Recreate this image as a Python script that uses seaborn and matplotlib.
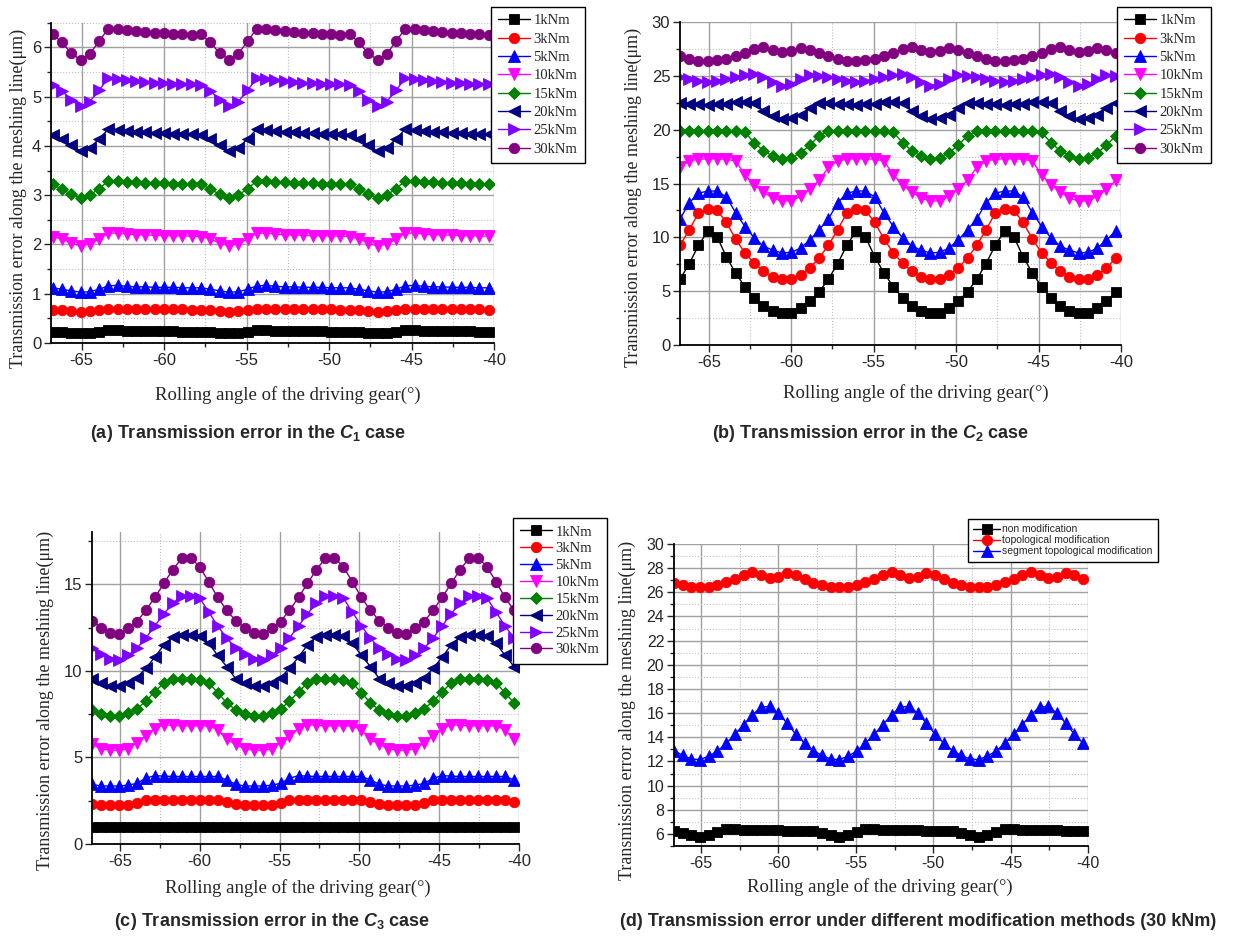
import pandas as pd
import seaborn as sns
import matplotlib.pyplot as plt
from matplotlib.ticker import MultipleLocator

# Rolling angle of the driving gear (deg), same sampling in every panel
angle = [
    -66.75, -66.19, -65.63, -65.06, -64.50, -63.94, -63.38, -62.81,
    -62.25, -61.69, -61.13, -60.56, -60.00, -59.44, -58.88, -58.31,
    -57.75, -57.19, -56.63, -56.06, -55.50, -54.94, -54.38, -53.81,
    -53.25, -52.69, -52.13, -51.56, -51.00, -50.44, -49.88, -49.31,
    -48.75, -48.19, -47.63, -47.06, -46.50, -45.94, -45.38, -44.81,
    -44.25, -43.69, -43.13, -42.56, -42.00, -41.44, -40.88, -40.31,
]

loads = ["1kNm", "3kNm", "5kNm", "10kNm", "15kNm", "20kNm", "25kNm", "30kNm"]
methods = ["non modification", "topological modification", "segment topological modification"]

# (a) C1 case
c1_1 = [0.23, 0.22, 0.21, 0.20, 0.21, 0.23, 0.26, 0.26, 0.25, 0.25, 0.24, 0.24, 0.24, 0.24, 0.23, 0.23,
        0.23, 0.22, 0.21, 0.20, 0.21, 0.23, 0.26, 0.26, 0.25, 0.25, 0.24, 0.24, 0.24, 0.24, 0.23, 0.23,
        0.23, 0.22, 0.21, 0.20, 0.21, 0.23, 0.26, 0.26, 0.25, 0.25, 0.24, 0.24, 0.24, 0.24, 0.23, 0.23]
c1_3 = [0.67, 0.66, 0.64, 0.62, 0.64, 0.67, 0.70, 0.70, 0.70, 0.69, 0.69, 0.69, 0.68, 0.68, 0.68, 0.67,
        0.67, 0.66, 0.64, 0.62, 0.64, 0.67, 0.70, 0.70, 0.70, 0.69, 0.69, 0.69, 0.68, 0.68, 0.68, 0.67,
        0.67, 0.66, 0.64, 0.62, 0.64, 0.67, 0.70, 0.70, 0.70, 0.69, 0.69, 0.69, 0.68, 0.68, 0.68, 0.67]
c1_5 = [1.12, 1.09, 1.06, 1.03, 1.04, 1.09, 1.16, 1.17, 1.15, 1.14, 1.14, 1.13, 1.13, 1.13, 1.12, 1.12,
        1.12, 1.09, 1.06, 1.03, 1.04, 1.09, 1.16, 1.17, 1.15, 1.14, 1.14, 1.13, 1.13, 1.13, 1.12, 1.12,
        1.12, 1.09, 1.06, 1.03, 1.04, 1.09, 1.16, 1.17, 1.15, 1.14, 1.14, 1.13, 1.13, 1.13, 1.12, 1.12]
c1_10 = [2.16, 2.11, 2.03, 1.97, 2.01, 2.11, 2.23, 2.23, 2.21, 2.20, 2.19, 2.19, 2.18, 2.18, 2.17, 2.17,
         2.16, 2.11, 2.03, 1.97, 2.01, 2.11, 2.23, 2.23, 2.21, 2.20, 2.19, 2.19, 2.18, 2.18, 2.17, 2.17,
         2.16, 2.11, 2.03, 1.97, 2.01, 2.11, 2.23, 2.23, 2.21, 2.20, 2.19, 2.19, 2.18, 2.18, 2.17, 2.17]
c1_15 = [3.22, 3.12, 3.02, 2.94, 3.00, 3.13, 3.29, 3.29, 3.27, 3.26, 3.25, 3.24, 3.24, 3.23, 3.23, 3.22,
         3.22, 3.12, 3.02, 2.94, 3.00, 3.13, 3.29, 3.29, 3.27, 3.26, 3.25, 3.24, 3.24, 3.23, 3.23, 3.22,
         3.22, 3.12, 3.02, 2.94, 3.00, 3.13, 3.29, 3.29, 3.27, 3.26, 3.25, 3.24, 3.24, 3.23, 3.23, 3.22]
c1_20 = [4.23, 4.14, 4.01, 3.89, 3.96, 4.14, 4.34, 4.33, 4.31, 4.29, 4.28, 4.27, 4.26, 4.25, 4.25, 4.24,
         4.23, 4.14, 4.01, 3.89, 3.96, 4.14, 4.34, 4.33, 4.31, 4.29, 4.28, 4.27, 4.26, 4.25, 4.25, 4.24,
         4.23, 4.14, 4.01, 3.89, 3.96, 4.14, 4.34, 4.33, 4.31, 4.29, 4.28, 4.27, 4.26, 4.25, 4.25, 4.24]
c1_25 = [5.24, 5.12, 4.93, 4.80, 4.90, 5.13, 5.37, 5.36, 5.34, 5.32, 5.30, 5.28, 5.27, 5.26, 5.26, 5.25,
         5.24, 5.12, 4.93, 4.80, 4.90, 5.13, 5.37, 5.36, 5.34, 5.32, 5.30, 5.28, 5.27, 5.26, 5.26, 5.25,
         5.24, 5.12, 4.93, 4.80, 4.90, 5.13, 5.37, 5.36, 5.34, 5.32, 5.30, 5.28, 5.27, 5.26, 5.26, 5.25]
c1_30 = [6.27, 6.10, 5.88, 5.75, 5.87, 6.12, 6.38, 6.38, 6.35, 6.33, 6.31, 6.30, 6.29, 6.28, 6.27, 6.26,
         6.27, 6.10, 5.88, 5.75, 5.87, 6.12, 6.38, 6.38, 6.35, 6.33, 6.31, 6.30, 6.29, 6.28, 6.27, 6.26,
         6.27, 6.10, 5.88, 5.75, 5.87, 6.12, 6.38, 6.38, 6.35, 6.33, 6.31, 6.30, 6.29, 6.28, 6.27, 6.26]

# (b) C2 case
c2_1 = [6.10, 7.55, 9.25, 10.60, 10.05, 8.20, 6.70, 5.40, 4.40, 3.65, 3.15, 2.95, 3.00, 3.40, 4.05, 4.95,
        6.10, 7.55, 9.25, 10.60, 10.05, 8.20, 6.70, 5.40, 4.40, 3.65, 3.15, 2.95, 3.00, 3.40, 4.05, 4.95,
        6.10, 7.55, 9.25, 10.60, 10.05, 8.20, 6.70, 5.40, 4.40, 3.65, 3.15, 2.95, 3.00, 3.40, 4.05, 4.95]
c2_3 = [9.25, 10.70, 12.25, 12.60, 12.50, 11.40, 9.85, 8.55, 7.60, 6.85, 6.35, 6.10, 6.10, 6.50, 7.15, 8.10,
        9.25, 10.70, 12.25, 12.60, 12.50, 11.40, 9.85, 8.55, 7.60, 6.85, 6.35, 6.10, 6.10, 6.50, 7.15, 8.10,
        9.25, 10.70, 12.25, 12.60, 12.50, 11.40, 9.85, 8.55, 7.60, 6.85, 6.35, 6.10, 6.10, 6.50, 7.15, 8.10]
c2_5 = [11.70, 13.20, 14.10, 14.30, 14.30, 13.75, 12.30, 11.00, 9.95, 9.20, 8.80, 8.55, 8.60, 9.00, 9.75, 10.70,
        11.70, 13.20, 14.10, 14.30, 14.30, 13.75, 12.30, 11.00, 9.95, 9.20, 8.80, 8.55, 8.60, 9.00, 9.75, 10.70,
        11.70, 13.20, 14.10, 14.30, 14.30, 13.75, 12.30, 11.00, 9.95, 9.20, 8.80, 8.55, 8.60, 9.00, 9.75, 10.60]
c2_10 = [16.50, 17.10, 17.25, 17.30, 17.30, 17.25, 17.10, 15.80, 14.90, 14.20, 13.65, 13.35, 13.40, 13.80, 14.45, 15.30,
         16.50, 17.10, 17.25, 17.30, 17.30, 17.25, 17.10, 15.80, 14.90, 14.20, 13.65, 13.35, 13.40, 13.80, 14.45, 15.30,
         16.50, 17.10, 17.25, 17.30, 17.30, 17.25, 17.10, 15.80, 14.90, 14.20, 13.65, 13.35, 13.40, 13.80, 14.45, 15.30]
c2_15 = [19.85, 19.85, 19.85, 19.85, 19.85, 19.85, 19.85, 19.75, 18.80, 18.05, 17.55, 17.30, 17.40, 17.85, 18.55, 19.45,
         19.85, 19.85, 19.85, 19.85, 19.85, 19.85, 19.85, 19.75, 18.80, 18.05, 17.55, 17.30, 17.40, 17.85, 18.55, 19.45,
         19.85, 19.85, 19.85, 19.85, 19.85, 19.85, 19.85, 19.75, 18.80, 18.05, 17.55, 17.30, 17.40, 17.85, 18.55, 19.45]
c2_20 = [22.50, 22.40, 22.35, 22.30, 22.35, 22.40, 22.55, 22.60, 22.50, 21.75, 21.25, 21.00, 21.10, 21.40, 22.00, 22.45,
         22.50, 22.40, 22.35, 22.30, 22.35, 22.40, 22.55, 22.60, 22.50, 21.75, 21.25, 21.00, 21.10, 21.40, 22.00, 22.45,
         22.50, 22.40, 22.35, 22.30, 22.35, 22.40, 22.55, 22.60, 22.50, 21.75, 21.25, 21.00, 21.10, 21.40, 22.00, 22.45]
c2_25 = [24.85, 24.70, 24.55, 24.45, 24.55, 24.70, 24.90, 25.05, 25.20, 24.90, 24.40, 24.10, 24.25, 24.70, 25.10, 24.95,
         24.85, 24.70, 24.55, 24.45, 24.55, 24.70, 24.90, 25.05, 25.20, 24.90, 24.40, 24.10, 24.25, 24.70, 25.10, 24.95,
         24.85, 24.70, 24.55, 24.45, 24.55, 24.70, 24.90, 25.05, 25.20, 24.90, 24.40, 24.10, 24.25, 24.70, 25.10, 24.95]
c2_30 = [26.80, 26.60, 26.40, 26.40, 26.45, 26.60, 26.85, 27.10, 27.45, 27.65, 27.40, 27.20, 27.30, 27.60, 27.40, 27.10,
         26.80, 26.60, 26.40, 26.40, 26.45, 26.60, 26.85, 27.10, 27.45, 27.65, 27.40, 27.20, 27.30, 27.60, 27.40, 27.10,
         26.80, 26.60, 26.40, 26.40, 26.45, 26.60, 26.85, 27.10, 27.45, 27.65, 27.40, 27.20, 27.30, 27.60, 27.40, 27.10]

# (c) C3 case
c3_1 = [1.00, 0.99, 0.99, 0.99, 1.00, 1.01, 1.01, 1.00, 1.00, 1.00, 0.99, 0.99, 0.99, 0.99, 0.99, 1.00,
        1.00, 0.99, 0.99, 0.99, 1.00, 1.01, 1.01, 1.00, 1.00, 1.00, 0.99, 0.99, 0.99, 0.99, 0.99, 1.00,
        1.00, 0.99, 0.99, 0.99, 1.00, 1.01, 1.01, 1.00, 1.00, 1.00, 0.99, 0.99, 0.99, 0.99, 0.99, 1.00]
c3_3 = [2.30, 2.25, 2.25, 2.25, 2.28, 2.38, 2.55, 2.55, 2.55, 2.55, 2.55, 2.55, 2.55, 2.55, 2.53, 2.45,
        2.30, 2.25, 2.25, 2.25, 2.28, 2.38, 2.55, 2.55, 2.55, 2.55, 2.55, 2.55, 2.55, 2.55, 2.53, 2.45,
        2.30, 2.25, 2.25, 2.25, 2.28, 2.38, 2.55, 2.55, 2.55, 2.55, 2.55, 2.55, 2.55, 2.55, 2.53, 2.45]
c3_5 = [3.45, 3.35, 3.35, 3.35, 3.40, 3.50, 3.80, 3.95, 3.92, 3.90, 3.90, 3.90, 3.90, 3.90, 3.90, 3.70,
        3.45, 3.35, 3.35, 3.35, 3.40, 3.50, 3.80, 3.95, 3.92, 3.90, 3.90, 3.90, 3.90, 3.90, 3.90, 3.70,
        3.45, 3.35, 3.35, 3.35, 3.40, 3.50, 3.80, 3.95, 3.92, 3.90, 3.90, 3.90, 3.90, 3.90, 3.90, 3.70]
c3_10 = [5.75, 5.50, 5.42, 5.42, 5.50, 5.85, 6.25, 6.65, 6.90, 6.85, 6.82, 6.82, 6.82, 6.82, 6.60, 6.05,
         5.75, 5.50, 5.42, 5.42, 5.50, 5.85, 6.25, 6.65, 6.90, 6.85, 6.82, 6.82, 6.82, 6.82, 6.60, 6.05,
         5.75, 5.50, 5.42, 5.42, 5.50, 5.85, 6.25, 6.65, 6.90, 6.85, 6.82, 6.82, 6.82, 6.82, 6.60, 6.05]
c3_15 = [7.75, 7.50, 7.40, 7.40, 7.55, 7.80, 8.25, 8.80, 9.30, 9.55, 9.55, 9.55, 9.50, 9.30, 8.75, 8.15,
         7.75, 7.50, 7.40, 7.40, 7.55, 7.80, 8.25, 8.80, 9.30, 9.55, 9.55, 9.55, 9.50, 9.30, 8.75, 8.15,
         7.75, 7.50, 7.40, 7.40, 7.55, 7.80, 8.25, 8.80, 9.30, 9.55, 9.55, 9.55, 9.50, 9.30, 8.75, 8.15]
c3_20 = [9.55, 9.30, 9.15, 9.10, 9.30, 9.60, 10.15, 10.80, 11.50, 11.95, 12.05, 12.05, 12.00, 11.60, 10.90, 10.25,
         9.55, 9.30, 9.15, 9.10, 9.30, 9.60, 10.15, 10.80, 11.50, 11.95, 12.05, 12.05, 12.00, 11.60, 10.90, 10.25,
         9.55, 9.30, 9.15, 9.10, 9.30, 9.60, 10.15, 10.80, 11.50, 11.95, 12.05, 12.05, 12.00, 11.60, 10.90, 10.25]
c3_25 = [11.30, 10.95, 10.70, 10.65, 10.90, 11.30, 11.90, 12.60, 13.30, 13.90, 14.35, 14.35, 14.20, 13.40, 12.60, 11.90,
         11.30, 10.95, 10.70, 10.65, 10.90, 11.30, 11.90, 12.60, 13.30, 13.90, 14.35, 14.35, 14.20, 13.40, 12.60, 11.90,
         11.30, 10.95, 10.70, 10.65, 10.90, 11.30, 11.90, 12.60, 13.30, 13.90, 14.35, 14.35, 14.20, 13.40, 12.60, 11.90]
c3_30 = [12.90, 12.50, 12.20, 12.15, 12.45, 12.85, 13.50, 14.25, 15.05, 15.85, 16.50, 16.55, 16.00, 15.15, 14.25, 13.50,
         12.90, 12.50, 12.20, 12.15, 12.45, 12.85, 13.50, 14.25, 15.05, 15.85, 16.50, 16.55, 16.00, 15.15, 14.25, 13.50,
         12.90, 12.50, 12.20, 12.15, 12.45, 12.85, 13.50, 14.25, 15.05, 15.85, 16.50, 16.55, 16.00, 15.15, 14.25, 13.50]

load_colors = ["#000000", "#ff0000", "#0000ff", "#ff00ff", "#008000", "#000080", "#8000ff", "#800080"]
load_markers = ["s", "o", "^", "v", "D", "<", ">", "o"]
method_colors = ["#000000", "#ff0000", "#0000ff"]
method_markers = ["s", "o", "^"]
marker_size = {"s": 6.5, "o": 7.5, "^": 8, "v": 8, "D": 6.5, "<": 8, ">": 8}

W, H = 1233, 940
sns.set_style("ticks")
plt.rcParams["font.family"] = ["Liberation Sans", "DejaVu Sans"]
plt.rcParams["axes.unicode_minus"] = False
plt.rcParams["mathtext.fontset"] = "custom"
plt.rcParams["mathtext.rm"] = "Liberation Sans:bold"
plt.rcParams["mathtext.it"] = "Liberation Sans:bold:italic"

fig = plt.figure(figsize=(W / 100, H / 100), dpi=100)


def add_axes(left, top, right, bottom):
    return fig.add_axes([left / W, 1 - bottom / H, (right - left) / W, (bottom - top) / H])


def draw_panel(ax, series, names, colors, markers, xlim, ylim, ymajor, yminor, ticksize=12):
    frame = pd.concat(
        [pd.DataFrame({"angle": angle, "te": vals, "case": name}) for name, vals in zip(names, series)],
        ignore_index=True,
    )
    sns.lineplot(
        frame, x="angle", y="te", hue="case", style="case",
        hue_order=names, style_order=names,
        palette=dict(zip(names, colors)), markers=dict(zip(names, markers)),
        dashes=False, estimator=None, sort=False, linewidth=1.0, legend=False, ax=ax,
    )
    for line, m in zip(ax.lines, markers):
        line.set_markersize(marker_size[m])
        line.set_markeredgecolor(line.get_color())
        line.set_markeredgewidth(0.6)

    ax.set_xlim(*xlim)
    ax.set_ylim(*ylim)
    ax.xaxis.set_major_locator(MultipleLocator(5))
    ax.xaxis.set_minor_locator(MultipleLocator(2.5))
    ax.yaxis.set_major_locator(MultipleLocator(ymajor))
    ax.yaxis.set_minor_locator(MultipleLocator(yminor))
    ax.set_axisbelow(True)
    ax.grid(which="major", color="#a0a0a0", linewidth=1.0)
    ax.grid(which="minor", color="#c0c0c0", linewidth=0.8, linestyle=":")
    sns.despine(ax=ax)
    for side in ["left", "bottom"]:
        ax.spines[side].set_linewidth(1.3)
        ax.spines[side].set_color("black")
    ax.tick_params(which="major", direction="out", length=5, width=1, labelsize=ticksize, pad=2)
    ax.tick_params(which="minor", direction="out", length=3, width=1)
    ax.set_xlabel("Rolling angle of the driving gear(°)", fontsize=13.5, family="Liberation Serif")
    ax.set_ylabel("Transmission error along the meshing line(μm)", fontsize=13, family="Liberation Serif")


def place_labels(ax, xlab, ylab):
    ax.xaxis.set_label_coords(xlab[0] / W, 1 - xlab[1] / H, transform=fig.transFigure)
    ax.xaxis.label.set_va("center")
    ax.yaxis.set_label_coords(ylab[0] / W, 1 - ylab[1] / H, transform=fig.transFigure)
    ax.yaxis.label.set_va("center")


def add_legend(ax, names, x0, y0, size, family, handlelength, labelspacing):
    leg = ax.legend(
        handles=ax.lines[:len(names)], labels=names, loc="upper left",
        bbox_to_anchor=(x0 / W, 1 - y0 / H), bbox_transform=fig.transFigure,
        frameon=True, fancybox=False, framealpha=1, edgecolor="black",
        prop={"family": family, "size": size}, handlelength=handlelength,
        labelspacing=labelspacing, handletextpad=0.2, borderpad=0.5, borderaxespad=0,
    )
    leg.get_frame().set_linewidth(1.0)


# (a)
ax_a = add_axes(51, 22.7, 494, 343)
draw_panel(ax_a, [c1_1, c1_3, c1_5, c1_10, c1_15, c1_20, c1_25, c1_30], loads, load_colors, load_markers,
           (-66.85, -40), (0, 6.5), 1, 0.5)
place_labels(ax_a, (288, 395), (18, 198))
add_legend(ax_a, loads, 491, 7, 10.5, "Liberation Serif", 2.2, 0.35)

# (b)
ax_b = add_axes(680, 22, 1121, 345)
draw_panel(ax_b, [c2_1, c2_3, c2_5, c2_10, c2_15, c2_20, c2_25, c2_30], loads, load_colors, load_markers,
           (-66.75, -40), (0, 30), 5, 2.5)
place_labels(ax_b, (916, 393), (633, 197))
add_legend(ax_b, loads, 1117, 7, 10.5, "Liberation Serif", 2.2, 0.35)

# (c)
ax_c = add_axes(92, 532.4, 519, 844)
draw_panel(ax_c, [c3_1, c3_3, c3_5, c3_10, c3_15, c3_20, c3_25, c3_30], loads, load_colors, load_markers,
           (-66.75, -40), (0, 18), 5, 2.5)
place_labels(ax_c, (298, 888), (45, 700))
add_legend(ax_c, loads, 513, 518, 10.5, "Liberation Serif", 2.2, 0.25)

# (d) 30 kNm under the three modification methods
ax_d = add_axes(674, 544, 1088, 846)
draw_panel(ax_d, [c1_30, c2_30, c3_30], methods, method_colors, method_markers,
           (-66.75, -40), (5, 30), 2, 1, ticksize=11.5)
place_labels(ax_d, (880, 887), (627, 710))
add_legend(ax_d, methods, 968, 519, 7.5, "Liberation Sans", 2.6, 0.1)

# Panel titles
title_kw = dict(ha="center", va="center", fontsize=13, fontweight="bold")
fig.text(248 / W, 1 - 433 / H, "(a) Transmission error in the $C_1$ case", **title_kw)
fig.text(870 / W, 1 - 433 / H, "(b) Transmission error in the $C_2$ case", **title_kw)
fig.text(272 / W, 1 - 922 / H, "(c) Transmission error in the $C_3$ case", **title_kw)
fig.text(918 / W, 1 - 922 / H, "(d) Transmission error under different modification methods (30 kNm)", **title_kw)

fig.savefig("out.png", dpi=100)
